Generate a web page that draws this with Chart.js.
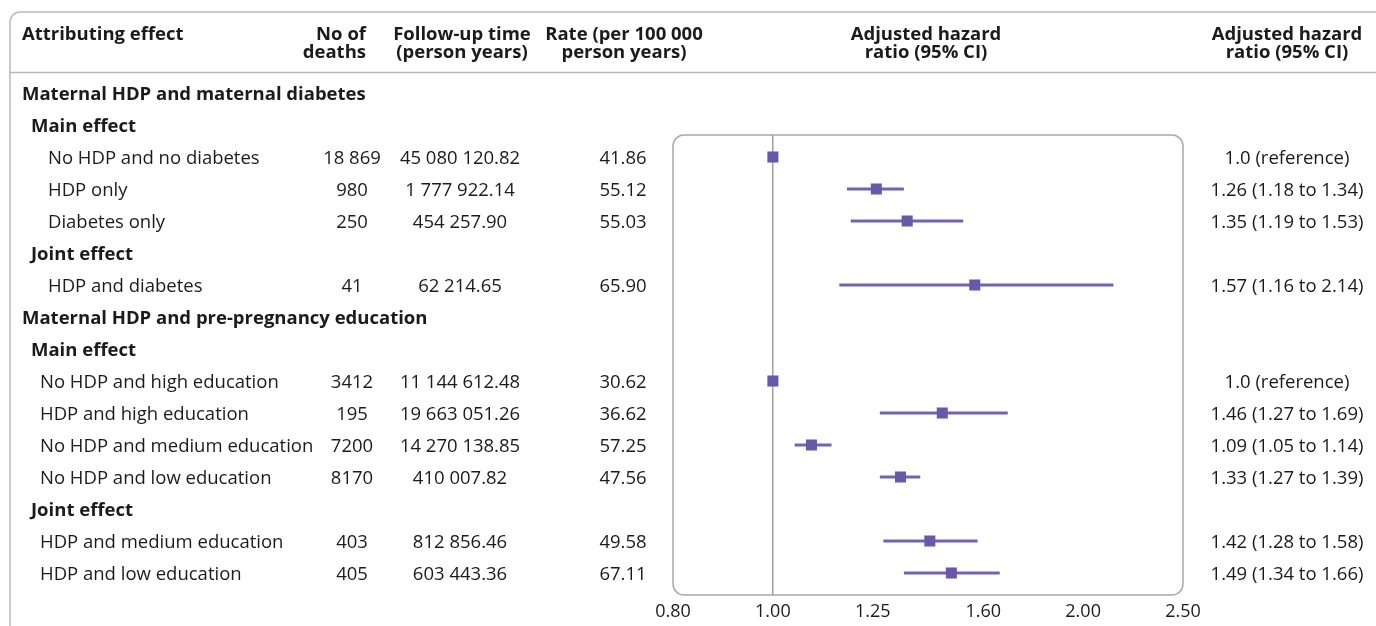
<!DOCTYPE html>
<html lang="en">
<head>
<meta charset="UTF-8">
<title>Forest plot - HDP joint effects</title>
<script src="https://cdn.jsdelivr.net/npm/chart.js@4.4.1/dist/chart.umd.min.js"></script>
<style>
  html, body { margin: 0; padding: 0; background: #fff; }
  canvas { display: block; }
</style>
</head>
<body>
<canvas id="forest" width="1376" height="626"></canvas>
<script>
// ---- data ----
const labels = ['No HDP and no diabetes', 'HDP only', 'Diabetes only', 'HDP and diabetes',
  'No HDP and high education', 'HDP and high education', 'No HDP and medium education',
  'No HDP and low education', 'HDP and medium education', 'HDP and low education'];
const rowIndex = [2, 3, 4, 6, 9, 10, 11, 12, 14, 15];
const deaths = ['18 869', '980', '250', '41', '3412', '195', '7200', '8170', '403', '405'];
const followUp = ['45 080 120.82', '1 777 922.14', '454 257.90', '62 214.65', '11 144 612.48',
  '19 663 051.26', '14 270 138.85', '410 007.82', '812 856.46', '603 443.36'];
const rates = ['41.86', '55.12', '55.03', '65.90', '30.62', '36.62', '57.25', '47.56', '49.58', '67.11'];
const hazard = [1.0, 1.26, 1.35, 1.57, 1.0, 1.46, 1.09, 1.33, 1.42, 1.49];
const lower = [null, 1.18, 1.19, 1.16, null, 1.27, 1.05, 1.27, 1.28, 1.34];
const upper = [null, 1.34, 1.53, 2.14, null, 1.69, 1.14, 1.39, 1.58, 1.66];
const headings = [
  { row: 0, text: 'Maternal HDP and maternal diabetes', level: 0 },
  { row: 1, text: 'Main effect', level: 1 },
  { row: 5, text: 'Joint effect', level: 1 },
  { row: 7, text: 'Maternal HDP and pre-pregnancy education', level: 0 },
  { row: 8, text: 'Main effect', level: 1 },
  { row: 13, text: 'Joint effect', level: 1 }
];
const xTicks = [0.8, 1.0, 1.25, 1.6, 2.0, 2.5];

const FONT = '"Open Sans", sans-serif';
const FS = 18.5;
const TEXT = '#1b1b1b';
const PURPLE = '#6a57aa';
const PURPLE_LINE = '#7361b2';
const DY = 1.5; // small nudge so text sits on the row centre

// confidence interval lines, one dataset per row
const ciSets = rowIndex.map((r, i) => ({
  type: 'scatter',
  showLine: true,
  data: lower[i] == null ? [] : [{ x: lower[i], y: r }, { x: upper[i], y: r }],
  borderColor: PURPLE_LINE,
  borderWidth: 3,
  pointRadius: 0,
  order: 1
}));

const pointSet = {
  type: 'scatter',
  data: rowIndex.map((r, i) => ({ x: hazard[i], y: r })),
  pointStyle: 'rect',
  pointRadius: 7.8,
  backgroundColor: PURPLE,
  borderColor: PURPLE,
  borderWidth: 0,
  order: 0
};

function fmtCI(i) {
  if (lower[i] == null) return hazard[i].toFixed(1) + ' (reference)';
  return hazard[i].toFixed(2) + ' (' + lower[i].toFixed(2) + ' to ' + upper[i].toFixed(2) + ')';
}

// table text, frame and plot box
const tablePlugin = {
  id: 'table',
  beforeDraw(chart) {
    const ctx = chart.ctx;
    const a = chart.chartArea;
    ctx.save();
    // outer frame with rounded top-left corner
    ctx.strokeStyle = '#b9b9b9';
    ctx.lineWidth = 1.5;
    ctx.beginPath();
    ctx.moveTo(10, 626);
    ctx.lineTo(10, 22);
    ctx.arcTo(10, 12, 20, 12, 10);
    ctx.lineTo(1376, 12);
    ctx.stroke();
    ctx.beginPath();
    ctx.moveTo(10, 72.5);
    ctx.lineTo(1376, 72.5);
    ctx.stroke();
    // plot box
    ctx.strokeStyle = '#a8a8a8';
    ctx.lineWidth = 1.5;
    ctx.beginPath();
    ctx.roundRect(a.left, a.top, a.right - a.left, a.bottom - a.top, 11);
    ctx.stroke();
    ctx.restore();
  },
  afterDraw(chart) {
    const ctx = chart.ctx;
    const y = chart.scales.y;
    ctx.save();
    ctx.fillStyle = TEXT;
    ctx.textBaseline = 'middle';

    // column headers
    ctx.font = 'bold ' + FS + 'px ' + FONT;
    ctx.textAlign = 'left';
    ctx.fillText('Attributing effect', 22, 33 + DY);
    ctx.textAlign = 'right';
    ctx.fillText('No of', 366, 33 + DY);
    ctx.fillText('deaths', 366, 51 + DY);
    ctx.textAlign = 'center';
    ctx.fillText('Follow-up time', 462, 33 + DY);
    ctx.fillText('(person years)', 462, 51 + DY);
    ctx.fillText('Rate (per 100 000', 624, 33 + DY);
    ctx.fillText('person years)', 624, 51 + DY);
    ctx.fillText('Adjusted hazard', 926, 33 + DY);
    ctx.fillText('ratio (95% CI)', 926, 51 + DY);
    ctx.fillText('Adjusted hazard', 1287, 33 + DY);
    ctx.fillText('ratio (95% CI)', 1287, 51 + DY);

    // section headings
    headings.forEach(h => {
      ctx.textAlign = 'left';
      ctx.fillText(h.text, h.level === 0 ? 22 : 31, y.getPixelForValue(h.row) + DY);
    });

    // data rows
    ctx.font = FS + 'px ' + FONT;
    rowIndex.forEach((r, i) => {
      const py = y.getPixelForValue(r) + DY;
      ctx.textAlign = 'left';
      ctx.fillText(labels[i], r < 7 ? 48 : 40, py);
      ctx.textAlign = 'center';
      ctx.fillText(deaths[i], 352, py);
      ctx.fillText(followUp[i], 460, py);
      ctx.fillText(rates[i], 623, py);
      ctx.fillText(fmtCI(i), 1287, py);
    });
    ctx.restore();
  }
};

new Chart(document.getElementById('forest'), {
  type: 'scatter',
  data: { datasets: [pointSet, ...ciSets] },
  options: {
    responsive: false,
    animation: false,
    devicePixelRatio: 1,
    layout: { padding: { left: 673, right: 193, top: 135, bottom: 0 } },
    plugins: { legend: { display: false }, tooltip: { enabled: false } },
    scales: {
      x: {
        type: 'logarithmic',
        min: 0.8,
        max: 2.5,
        afterBuildTicks: axis => { axis.ticks = xTicks.map(v => ({ value: v })); },
        afterFit: axis => { axis.height = 31; },
        border: { display: false },
        grid: {
          drawTicks: false,
          lineWidth: 1.5,
          color: c => (c.tick && c.tick.value === 1 ? '#a0a0a0' : 'rgba(0,0,0,0)')
        },
        ticks: {
          padding: 6,
          color: TEXT,
          font: { family: FONT, size: 18 },
          maxRotation: 0,
          callback: v => Number(v).toFixed(2)
        }
      },
      y: {
        display: false,
        reverse: true,
        min: 1.3125,
        max: 15.6875
      }
    }
  },
  plugins: [tablePlugin]
});
</script>
</body>
</html>
